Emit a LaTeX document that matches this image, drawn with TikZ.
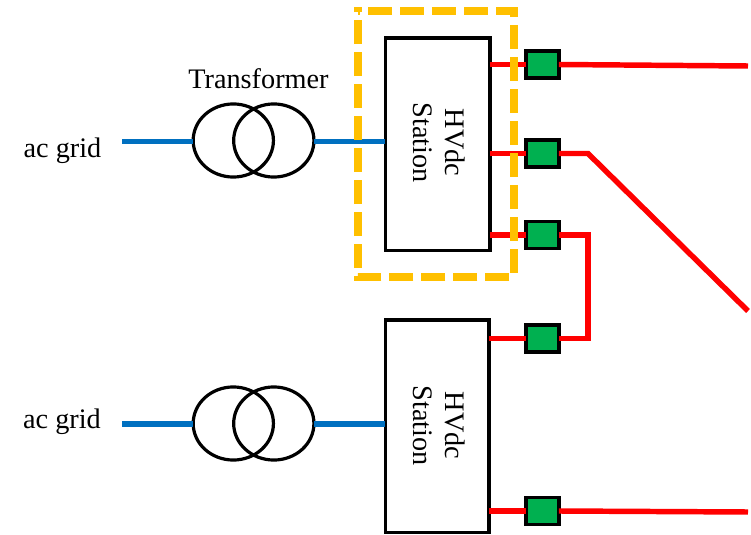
\documentclass[tikz,border=0pt]{standalone}
\usepackage{fontspec}
\setmainfont{Liberation Serif}
\usetikzlibrary{shapes.geometric}

\begin{document}
\begin{tikzpicture}[x=0.75pt,y=-0.75pt,
    stationbox/.style={draw=black,line width=2.6pt,fill=white,minimum width=78.4pt,minimum height=159.4pt,inner sep=0pt,outer sep=0pt},
    valvebox/.style={draw=black,line width=2.6pt,fill={rgb,255:red,0;green,176;blue,80},minimum width=24.6pt,minimum height=20.1pt,inner sep=0pt,outer sep=0pt},
    winding/.style={draw=black,line width=2.4pt,ellipse,minimum width=60.2pt,minimum height=54.8pt,inner sep=0pt,outer sep=0pt},
    label/.style={font=\fontsize{21.2}{24}\selectfont,inner sep=0pt},
    acline/.style={line width=4.1pt,color={rgb,255:red,0;green,112;blue,192}},
    dcline/.style={line width=4.1pt,red,line join=miter}]
    \useasboundingbox (0,0) rectangle (751,535);

    % Stations
    \node[stationbox] (station1) at (437.7,144.2) {};
    \node[stationbox,minimum width=77.6pt] (station2) at (437.2,426.3) {};
    \node[label,rotate=-90,align=center] at (439,142.5) {HVdc\\Station};
    \node[label,rotate=-90,align=center] at (439,425.5) {HVdc\\Station};

    % Transformers
    \node[winding] (t1a) at (233.3,140.5) {};
    \node[winding] (t1b) at (273.8,140.5) {};
    \node[winding] (t2a) at (233.3,423.5) {};
    \node[winding] (t2b) at (273.8,423.5) {};

    % Valves
    \node[valvebox] (valve1) at (542.5,64.5) {};
    \node[valvebox] (valve2) at (542.5,153.5) {};
    \node[valvebox] (valve3) at (542.5,235) {};
    \node[valvebox] (valve4) at (542.5,338.5) {};
    \node[valvebox] (valve5) at (542.5,511) {};

    % Free ends and bends
    \coordinate (grid1) at (122,141.5);
    \coordinate (grid2) at (122,424);
    \coordinate (end1) at (748,66);
    \coordinate (end2) at (748,311);
    \coordinate (end5) at (748,512);
    \coordinate (bend2) at (588,153.5);
    \coordinate (bend3) at (588,338.5);

    % ac side
    \draw[acline] (grid1) -- (t1a.west |- grid1);
    \draw[acline] (t1b.east |- grid1) -- (station1.west |- grid1);
    \draw[acline] (grid2) -- (t2a.west |- grid2);
    \draw[acline] (t2b.east |- grid2) -- (station2.west |- grid2);

    % dc side
    \draw[dcline] (station1.east |- valve1) -- (valve1.west);
    \draw[dcline] (station1.east |- valve2) -- (valve2.west);
    \draw[dcline] (station1.east |- valve3) -- (valve3.west);
    \draw[dcline] (station2.east |- valve4) -- (valve4.west);
    \draw[dcline] (station2.east |- valve5) -- (valve5.west);
    \draw[dcline] (valve1.east) -- (end1);
    \draw[dcline] (valve2.east) -- (bend2) -- (end2);
    \draw[dcline] (valve3.east) -| (bend3) -- (valve4.east);
    \draw[dcline] (valve5.east) -- (end5);

    % Highlight around the first station
    \draw[line width=6pt,color={rgb,255:red,255;green,192;blue,0},dash pattern=on 18pt off 6pt,dash phase=16.5pt]
        (358,10.7) -- (513.7,10.7) -- (513.7,276.7) -- (358,276.7) -- (358,7);

    % Labels
    \node[label] (xfmr) at (258.5,79) {Transformer};
    \node[label] (ac1) at (62.5,151) {ac grid};
    \node[label] (ac2) at (62,422) {ac grid};
\end{tikzpicture}
\end{document}
